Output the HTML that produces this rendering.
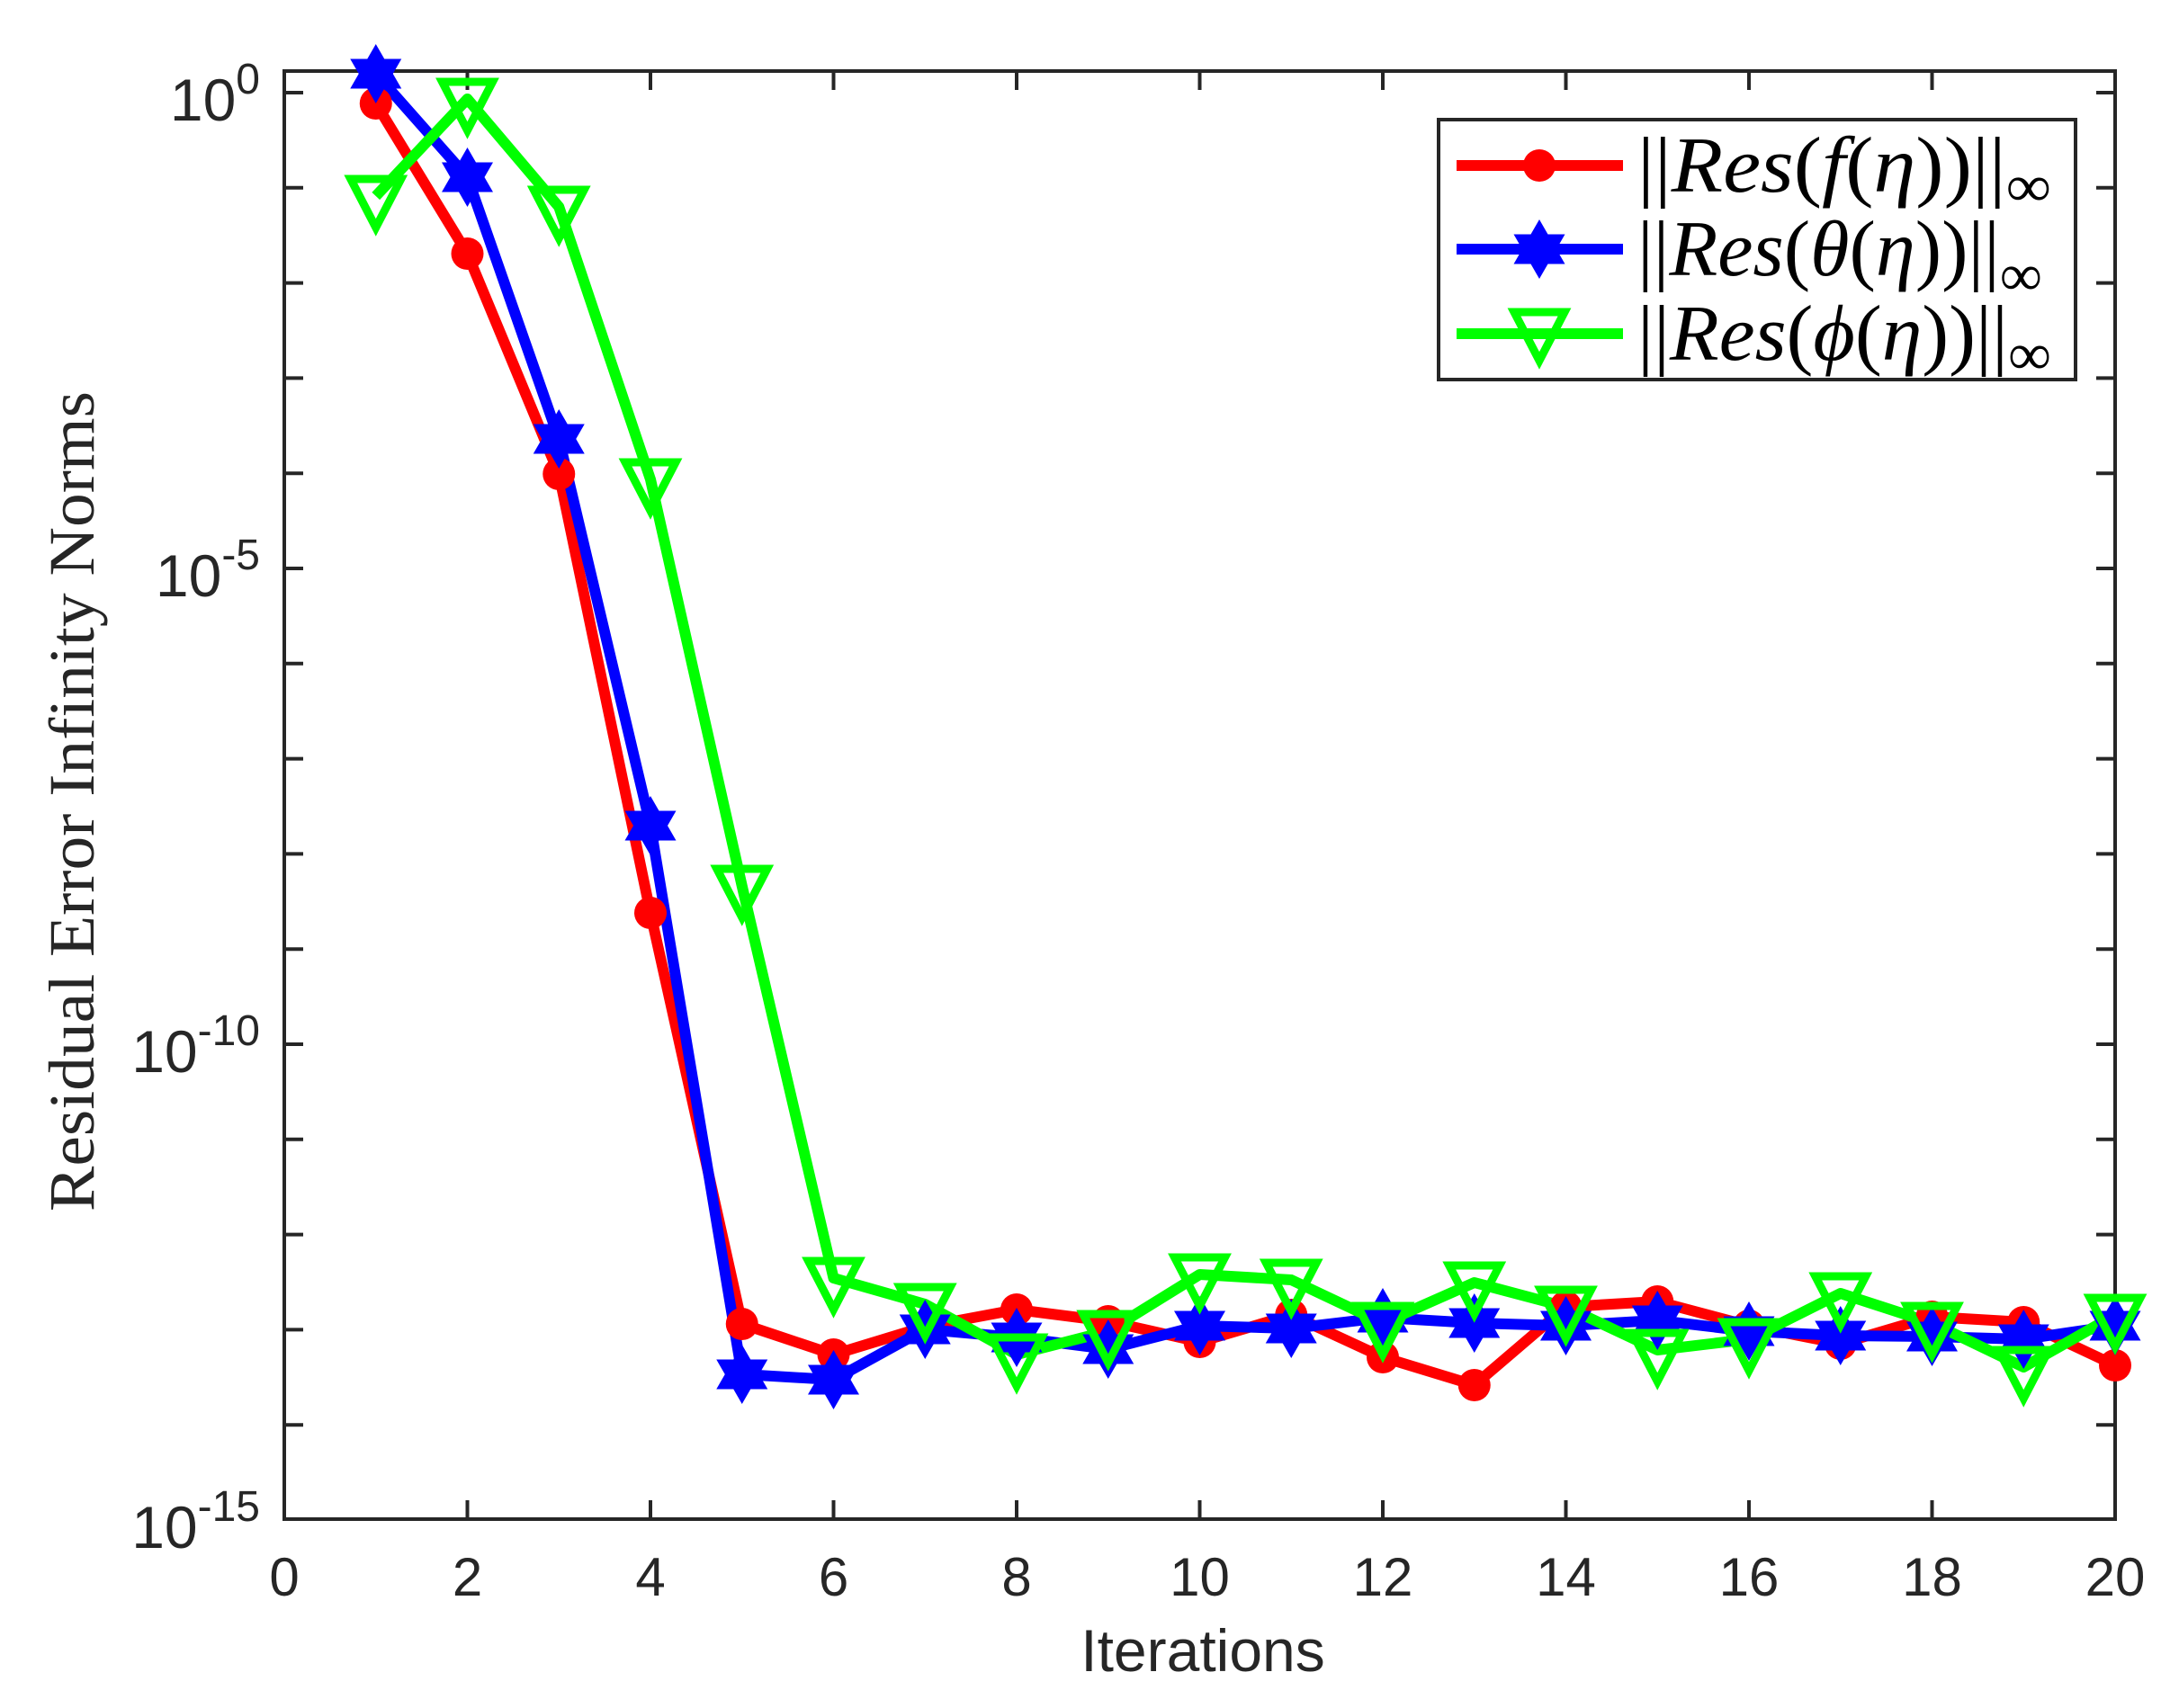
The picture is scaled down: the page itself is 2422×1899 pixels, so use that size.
<!DOCTYPE html>
<html><head><meta charset="utf-8"><style>
html,body{margin:0;padding:0;background:#fff;}
svg{display:block;}
</style></head><body>
<svg width="2422" height="1899" viewBox="0 0 2422 1899" xmlns="http://www.w3.org/2000/svg">
<rect width="2422" height="1899" fill="#fff"/>
<defs>
<clipPath id="c"><rect x="316" y="0" width="2100" height="1689"/></clipPath>
<path id="star" d="M0,-33 L9.5,-16.5 L28.5,-16.5 L19,0 L28.5,16.5 L9.5,16.5 L0,33 L-9.5,16.5 L-28.5,16.5 L-19,0 L-28.5,-16.5 L-9.5,-16.5 Z"/>
<path id="tri" d="M-28,-19 L28,-19 L0,35 Z"/>
</defs>
<g fill="none" stroke="#262626" stroke-width="4">
<rect x="316" y="79" width="2035" height="1610"/>
</g>
<g stroke="#262626" stroke-width="4">
<path d="M316,1689v-21M316,79v21M519.5,1689v-21M519.5,79v21M723,1689v-21M723,79v21M926.5,1689v-21M926.5,79v21M1130,1689v-21M1130,79v21M1333.5,1689v-21M1333.5,79v21M1537,1689v-21M1537,79v21M1740.5,1689v-21M1740.5,79v21M1944,1689v-21M1944,79v21M2147.5,1689v-21M2147.5,79v21M2351,1689v-21M2351,79v21"/>
<path d="M316,103h21M2351,103h-21M316,208.8h21M2351,208.8h-21M316,314.6h21M2351,314.6h-21M316,420.4h21M2351,420.4h-21M316,526.2h21M2351,526.2h-21M316,632h21M2351,632h-21M316,737.8h21M2351,737.8h-21M316,843.6h21M2351,843.6h-21M316,949.4h21M2351,949.4h-21M316,1055.2h21M2351,1055.2h-21M316,1161h21M2351,1161h-21M316,1266.8h21M2351,1266.8h-21M316,1372.6h21M2351,1372.6h-21M316,1478.4h21M2351,1478.4h-21M316,1584.2h21M2351,1584.2h-21"/>
</g>
<g font-family="Liberation Sans, sans-serif" fill="#262626" font-size="60" text-anchor="middle">
<text x="316" y="1774">0</text><text x="519.5" y="1774">2</text><text x="723" y="1774">4</text><text x="926.5" y="1774">6</text><text x="1130" y="1774">8</text><text x="1333.5" y="1774">10</text><text x="1537" y="1774">12</text><text x="1740.5" y="1774">14</text><text x="1944" y="1774">16</text><text x="2147.5" y="1774">18</text><text x="2351" y="1774">20</text>
<text x="1337" y="1858" font-size="66">Iterations</text>
</g>
<g font-family="Liberation Sans, sans-serif" fill="#262626" text-anchor="end">
<text x="289" y="134"><tspan font-size="66">10</tspan><tspan font-size="48" dy="-30">0</tspan></text>
<text x="289" y="663"><tspan font-size="66">10</tspan><tspan font-size="48" dy="-30">-5</tspan></text>
<text x="289" y="1192"><tspan font-size="66">10</tspan><tspan font-size="48" dy="-30">-10</tspan></text>
<text x="289" y="1721"><tspan font-size="66">10</tspan><tspan font-size="48" dy="-30">-15</tspan></text>
</g>
<text transform="translate(104,891) rotate(-90)" text-anchor="middle" font-family="Liberation Serif, serif" font-size="72" fill="#262626" textLength="912" lengthAdjust="spacingAndGlyphs">Residual Error Infinity Norms</text>

<g clip-path="url(#c)" stroke-linejoin="round" fill="none" stroke-width="12">
<polyline stroke="#ff0000" points="417.75,115 519.5,282 621.25,527 723,1015 824.75,1472 926.5,1506 1028.25,1475 1130,1456 1231.75,1469 1333.5,1492 1435.25,1462 1537,1509 1638.75,1540 1740.5,1453 1842.25,1447 1944,1474 2045.75,1494 2147.5,1464 2249.25,1470 2351,1518"/>
<polyline stroke="#0000ff" points="417.75,82 519.5,197 621.25,488 723,918 824.75,1528 926.5,1534 1028.25,1478 1130,1487 1231.75,1500 1333.5,1474 1435.25,1477 1537,1465 1638.75,1471 1740.5,1474 1842.25,1468 1944,1480 2045.75,1485 2147.5,1486 2249.25,1489 2351,1474"/>
<polyline stroke="#00ff00" points="417.75,218 519.5,110 621.25,230 723,533 824.75,985 926.5,1421 1028.25,1450 1130,1506 1231.75,1480 1333.5,1417 1435.25,1423 1537,1471 1638.75,1426 1740.5,1453 1842.25,1501 1944,1489 2045.75,1438 2147.5,1471 2249.25,1520 2351,1462"/>
</g>
<g fill="#ff0000">
<circle cx="417.75" cy="115" r="18"/><circle cx="519.5" cy="282" r="18"/><circle cx="621.25" cy="527" r="18"/><circle cx="723" cy="1015" r="18"/><circle cx="824.75" cy="1472" r="18"/><circle cx="926.5" cy="1506" r="18"/><circle cx="1028.25" cy="1475" r="18"/><circle cx="1130" cy="1456" r="18"/><circle cx="1231.75" cy="1469" r="18"/><circle cx="1333.5" cy="1492" r="18"/><circle cx="1435.25" cy="1462" r="18"/><circle cx="1537" cy="1509" r="18"/><circle cx="1638.75" cy="1540" r="18"/><circle cx="1740.5" cy="1453" r="18"/><circle cx="1842.25" cy="1447" r="18"/><circle cx="1944" cy="1474" r="18"/><circle cx="2045.75" cy="1494" r="18"/><circle cx="2147.5" cy="1464" r="18"/><circle cx="2249.25" cy="1470" r="18"/><circle cx="2351" cy="1518" r="18"/>
</g>
<g fill="#0000ff">
<use href="#star" x="417.75" y="82"/><use href="#star" x="519.5" y="197"/><use href="#star" x="621.25" y="488"/><use href="#star" x="723" y="918"/><use href="#star" x="824.75" y="1528"/><use href="#star" x="926.5" y="1534"/><use href="#star" x="1028.25" y="1478"/><use href="#star" x="1130" y="1487"/><use href="#star" x="1231.75" y="1500"/><use href="#star" x="1333.5" y="1474"/><use href="#star" x="1435.25" y="1477"/><use href="#star" x="1537" y="1465"/><use href="#star" x="1638.75" y="1471"/><use href="#star" x="1740.5" y="1474"/><use href="#star" x="1842.25" y="1468"/><use href="#star" x="1944" y="1480"/><use href="#star" x="2045.75" y="1485"/><use href="#star" x="2147.5" y="1486"/><use href="#star" x="2249.25" y="1489"/><use href="#star" x="2351" y="1474"/>
</g>
<g fill="none" stroke="#00ff00" stroke-width="9">
<use href="#tri" x="417.75" y="218"/><use href="#tri" x="519.5" y="110"/><use href="#tri" x="621.25" y="230"/><use href="#tri" x="723" y="533"/><use href="#tri" x="824.75" y="985"/><use href="#tri" x="926.5" y="1421"/><use href="#tri" x="1028.25" y="1450"/><use href="#tri" x="1130" y="1506"/><use href="#tri" x="1231.75" y="1480"/><use href="#tri" x="1333.5" y="1417"/><use href="#tri" x="1435.25" y="1423"/><use href="#tri" x="1537" y="1471"/><use href="#tri" x="1638.75" y="1426"/><use href="#tri" x="1740.5" y="1453"/><use href="#tri" x="1842.25" y="1501"/><use href="#tri" x="1944" y="1489"/><use href="#tri" x="2045.75" y="1438"/><use href="#tri" x="2147.5" y="1471"/><use href="#tri" x="2249.25" y="1520"/><use href="#tri" x="2351" y="1462"/>
</g>

<rect x="1599" y="133" width="708" height="289" fill="#fff" stroke="#262626" stroke-width="4"/>
<g stroke-width="12">
<line x1="1619" y1="184" x2="1804" y2="184" stroke="#ff0000"/>
<line x1="1619" y1="277" x2="1804" y2="277" stroke="#0000ff"/>
<line x1="1619" y1="371" x2="1804" y2="371" stroke="#00ff00"/>
</g>
<circle cx="1711" cy="184" r="18" fill="#ff0000"/>
<use href="#star" x="1711" y="277" fill="#0000ff"/>
<use href="#tri" x="1711" y="366" fill="none" stroke="#00ff00" stroke-width="9"/>
<g font-family="Liberation Serif, serif" font-size="88" fill="#000">
<text x="1820" y="213" textLength="460" lengthAdjust="spacingAndGlyphs"><tspan>||</tspan><tspan font-style="italic">Res</tspan><tspan>(</tspan><tspan font-style="italic">f</tspan><tspan>(</tspan><tspan font-style="italic">η</tspan><tspan>))||</tspan><tspan font-size="66" dy="16">∞</tspan></text>
<text x="1820" y="306" textLength="450" lengthAdjust="spacingAndGlyphs"><tspan>||</tspan><tspan font-style="italic">Res</tspan><tspan>(</tspan><tspan font-style="italic">θ</tspan><tspan>(</tspan><tspan font-style="italic">η</tspan><tspan>))||</tspan><tspan font-size="66" dy="22">∞</tspan></text>
<text x="1820" y="400" textLength="460" lengthAdjust="spacingAndGlyphs"><tspan>||</tspan><tspan font-style="italic">Res</tspan><tspan>(</tspan><tspan font-style="italic">ϕ</tspan><tspan>(</tspan><tspan font-style="italic">η</tspan><tspan>))||</tspan><tspan font-size="66" dy="16">∞</tspan></text>
</g>
</svg>
</body></html>
